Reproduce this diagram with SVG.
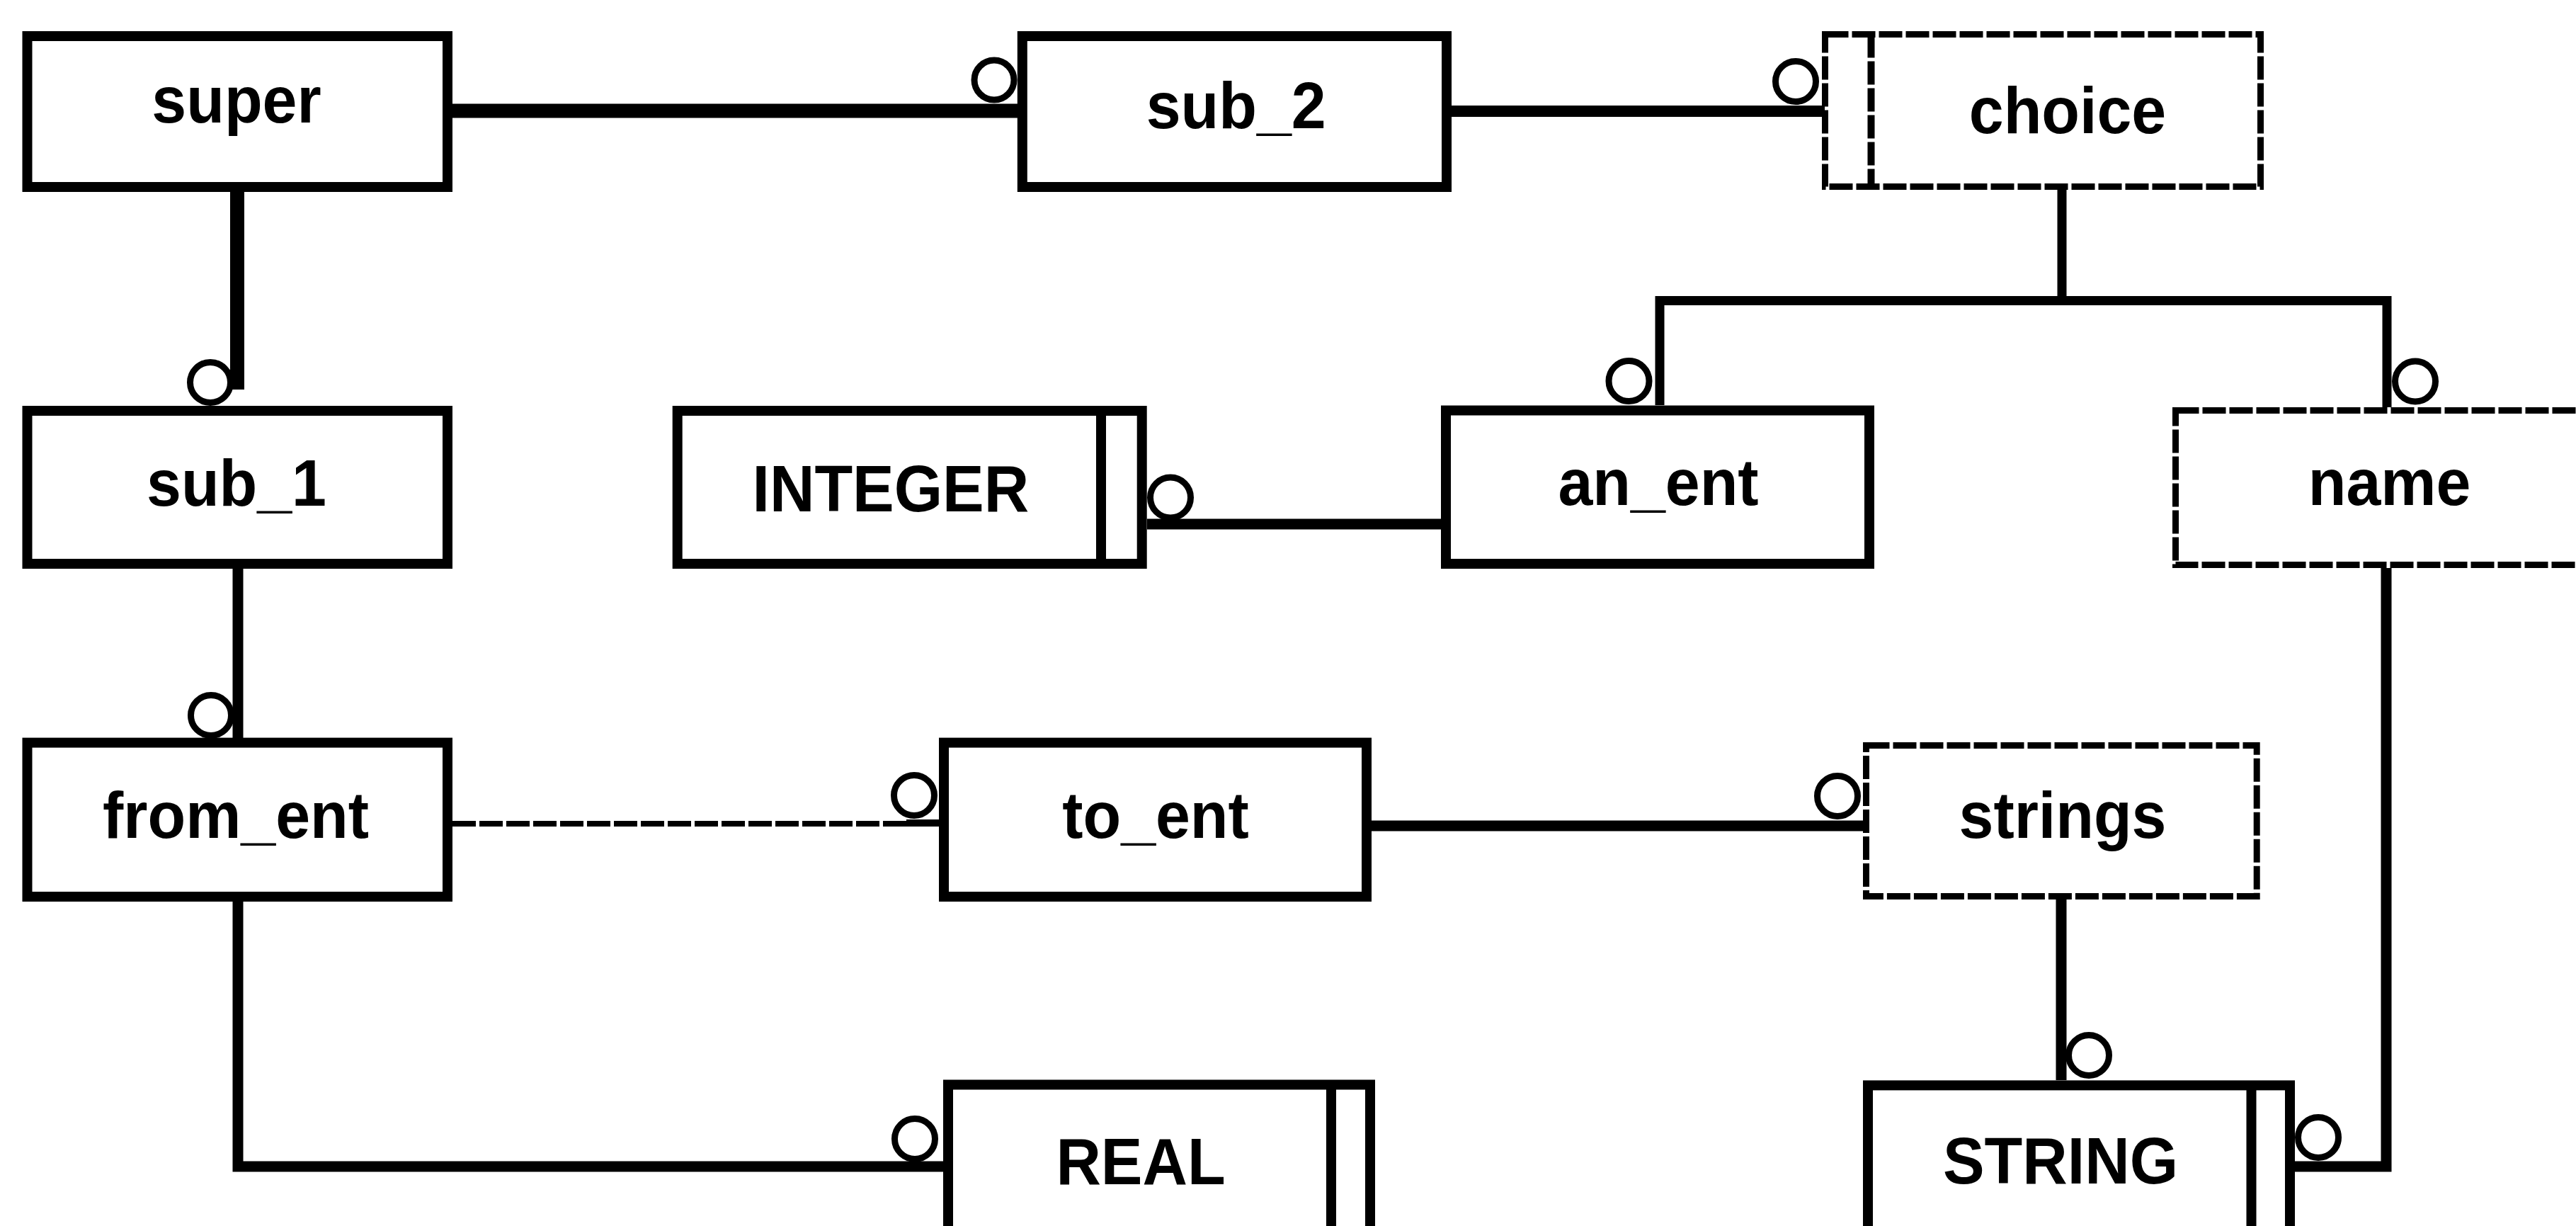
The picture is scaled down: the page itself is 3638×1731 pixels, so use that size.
<svg xmlns="http://www.w3.org/2000/svg" width="3638" height="1731" viewBox="0 0 3638 1731">
<style>
.box{fill:#fff;stroke:#000;stroke-width:14}
.dbox{fill:#fff;stroke:#000;stroke-width:9;stroke-dasharray:33 5}
.bar{stroke:#000;stroke-width:14;fill:none}
.dbar{stroke:#000;stroke-width:10;fill:none;stroke-dasharray:33 5}
.lbl{font-family:"Liberation Sans",Arial,Helvetica,sans-serif;font-weight:bold;font-size:93px;text-anchor:middle;fill:#000}
.ln{stroke:#000;stroke-width:15;fill:none}
.thick{stroke-width:20}
.dash{stroke-width:8;stroke-dasharray:33 5}
.ring{fill:#fff;stroke:#000;stroke-width:9}
</style>
<rect x="0" y="0" width="3638" height="1731" fill="#fff"/>
<g id="nodes">
<g id="super"><rect class="box" x="38.5" y="51" width="593.5" height="213"/><text class="lbl" transform="translate(334,172.5) scale(0.945,1)">super</text></g>
<g id="sub_2"><rect class="box" x="1443.8" y="51" width="599.2" height="213"/><text class="lbl" transform="translate(1745.7,180.7) scale(0.945,1)">sub_2</text></g>
<g id="choice"><rect class="dbox" x="2577.5" y="48.5" width="615" height="215"/><line class="dbar" x1="2642.5" y1="48.5" x2="2642.5" y2="263.5"/><text class="lbl" transform="translate(2920,187.7) scale(0.945,1)">choice</text></g>
<g id="sub_1"><rect class="box" x="38.5" y="580" width="593.5" height="216"/><text class="lbl" transform="translate(334,713.5) scale(0.945,1)">sub_1</text></g>
<g id="INTEGER"><rect class="box" x="956.7" y="580" width="656" height="216"/><line class="bar" x1="1555" y1="580" x2="1555" y2="796"/><text class="lbl" transform="translate(1257.8,722) scale(0.945,1)">INTEGER</text></g>
<g id="an_ent"><rect class="box" x="2042" y="579.5" width="598" height="216.5"/><text class="lbl" transform="translate(2342,712.5) scale(0.945,1)">an_ent</text></g>
<g id="name"><rect class="dbox" x="3072.5" y="579.5" width="610" height="218"/><text class="lbl" transform="translate(3374.5,713) scale(0.945,1)">name</text></g>
<g id="from_ent"><rect class="box" x="38.5" y="1048.6" width="593.5" height="217.4"/><text class="lbl" transform="translate(333,1183) scale(0.945,1)">from_ent</text></g>
<g id="to_ent"><rect class="box" x="1333" y="1048.6" width="597" height="217.4"/><text class="lbl" transform="translate(1632,1183) scale(0.945,1)">to_ent</text></g>
<g id="strings"><rect class="dbox" x="2635.5" y="1052.5" width="551.7" height="213"/><text class="lbl" transform="translate(2913,1182.5) scale(0.945,1)">strings</text></g>
<g id="REAL"><rect class="box" x="1339" y="1531.5" width="596" height="260"/><line class="bar" x1="1880" y1="1531.5" x2="1880" y2="1791.5"/><text class="lbl" transform="translate(1611,1672) scale(0.945,1)">REAL</text></g>
<g id="STRING"><rect class="box" x="2638" y="1532.4" width="596" height="260"/><line class="bar" x1="3179.5" y1="1532.4" x2="3179.5" y2="1792.4"/><text class="lbl" transform="translate(2910,1671) scale(0.945,1)">STRING</text></g>
</g>
<g id="connectors">
<line class="ln thick" x1="639" y1="156.6" x2="1437" y2="156.6"/>
<circle class="ring" cx="1404" cy="113" r="28"/>
<line class="ln thick" x1="335" y1="271" x2="335" y2="550"/>
<circle class="ring" cx="297" cy="540" r="28.5"/>
<line class="ln" x1="336" y1="803" x2="336" y2="1042"/>
<circle class="ring" cx="298" cy="1010" r="28.5"/>
<line class="ln dash" x1="639" y1="1163" x2="1285" y2="1163"/>
<line class="ln" style="stroke-width:10" x1="1280" y1="1162" x2="1326" y2="1162"/>
<circle class="ring" cx="1291" cy="1123" r="28.5"/>
<line class="ln" x1="1937" y1="1166" x2="2631" y2="1166"/>
<circle class="ring" cx="2595" cy="1124" r="28.5"/>
<path class="ln" d="M336,1273 V1647 H1332"/>
<circle class="ring" cx="1292" cy="1608" r="28.5"/>
<line class="ln" x1="1620" y1="740" x2="2035" y2="740"/>
<circle class="ring" cx="1653" cy="702.5" r="28.5"/>
<line class="ln" style="stroke-width:16" x1="2050" y1="157" x2="2577" y2="157"/>
<circle class="ring" cx="2536" cy="115" r="28.5"/>
<path class="ln" style="stroke-width:13" d="M2344,572 V424.5 H3371 V575 M2912,268 V424.5"/>
<circle class="ring" cx="2300.5" cy="538" r="28.5"/>
<circle class="ring" cx="3411" cy="538.5" r="28.5"/>
<path class="ln" d="M3370,802 V1647 H3241"/>
<circle class="ring" cx="3274" cy="1606" r="28.5"/>
<line class="ln" x1="2911" y1="1270" x2="2911" y2="1525"/>
<circle class="ring" cx="2950" cy="1490" r="28.5"/>
</g>
</svg>
